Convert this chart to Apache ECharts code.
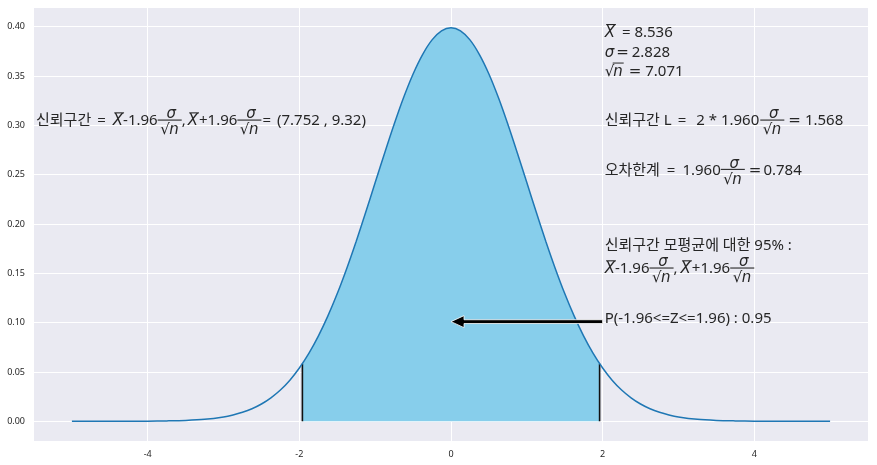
<!DOCTYPE html>
<html>
<head>
<meta charset="utf-8">
<title>신뢰구간</title>
<script src="https://cdn.jsdelivr.net/npm/echarts@6/dist/echarts.min.js"></script>
</head>
<body style="margin:0">
<div id="main" style="width:877px;height:465px;"></div>
<script>
// curve (standard normal density)
var xs = [-5, -4.75, -4.5, -4.25, -4, -3.75, -3.5, -3.25, -3,
          -2.875, -2.75, -2.625, -2.5, -2.375, -2.25, -2.125, -2, -1.875, -1.75, -1.625, -1.5, -1.375, -1.25, -1.125,
          -1, -0.875, -0.75, -0.625, -0.5, -0.375, -0.25, -0.125, 0, 0.125, 0.25, 0.375, 0.5, 0.625, 0.75, 0.875,
          1, 1.125, 1.25, 1.375, 1.5, 1.625, 1.75, 1.875, 2, 2.125, 2.25, 2.375, 2.5, 2.625, 2.75, 2.875,
          3, 3.25, 3.5, 3.75, 4, 4.25, 4.5, 4.75, 5];
var density = [0.0000, 0.0000, 0.0000, 0.0000, 0.0001, 0.0004, 0.0009, 0.0020, 0.0044,
               0.0064, 0.0091, 0.0127, 0.0175, 0.0238, 0.0317, 0.0417, 0.0540, 0.0688, 0.0863, 0.1066, 0.1295, 0.1550, 0.1826, 0.2119,
               0.2420, 0.2720, 0.3011, 0.3282, 0.3521, 0.3718, 0.3867, 0.3958, 0.3989, 0.3958, 0.3867, 0.3718, 0.3521, 0.3282, 0.3011, 0.2720,
               0.2420, 0.2119, 0.1826, 0.1550, 0.1295, 0.1066, 0.0863, 0.0688, 0.0540, 0.0417, 0.0317, 0.0238, 0.0175, 0.0127, 0.0091, 0.0064,
               0.0044, 0.0020, 0.0009, 0.0004, 0.0001, 0.0000, 0.0000, 0.0000, 0.0000];
// shaded region between -1.96 and 1.96
var fillX = [-1.96, -1.875, -1.75, -1.625, -1.5, -1.375, -1.25, -1.125, -1, -0.875, -0.75, -0.625, -0.5, -0.375, -0.25, -0.125,
             0, 0.125, 0.25, 0.375, 0.5, 0.625, 0.75, 0.875, 1, 1.125, 1.25, 1.375, 1.5, 1.625, 1.75, 1.875, 1.96];
var fillY = [0.0584, 0.0688, 0.0863, 0.1066, 0.1295, 0.1550, 0.1826, 0.2119, 0.2420, 0.2720, 0.3011, 0.3282, 0.3521, 0.3718, 0.3867, 0.3958,
             0.3989, 0.3958, 0.3867, 0.3718, 0.3521, 0.3282, 0.3011, 0.2720, 0.2420, 0.2119, 0.1826, 0.1550, 0.1295, 0.1066, 0.0863, 0.0688, 0.0584];
var cutX = [-1.96, 1.96];
var cutTop = 0.0584;
var xTicks = [-4, -2, 0, 2, 4];
var yTicks = [0, 0.05, 0.10, 0.15, 0.20, 0.25, 0.30, 0.35, 0.40];
var arrowFrom = [2, 0.1];
var arrowTo = [0, 0.1];

var INK = '#262626';
var PLAIN = '"Noto Sans", "Noto Sans CJK KR", sans-serif';
var MATH = '"DejaVu Sans"';
var SIZE = 15, FSIZE = 15;

var chart = echarts.init(document.getElementById('main'));

function pairs(a, b) {
    return a.map(function (v, i) { return [v, b[i]]; });
}

chart.setOption({
    animation: false,
    grid: { left: 34, right: 9, top: 8, bottom: 24, show: true, backgroundColor: '#eaeaf2', borderWidth: 0 },
    xAxis: {
        type: 'value', min: -5.5, max: 5.5,
        axisLine: { show: false },
        axisTick: { show: false, customValues: xTicks },
        axisLabel: { customValues: xTicks, color: INK, fontSize: 9, fontFamily: 'Noto Sans', margin: 9 },
        splitLine: { lineStyle: { color: '#ffffff', width: 1 } }
    },
    yAxis: {
        type: 'value', min: -0.02, max: 0.419,
        axisLine: { show: false },
        axisTick: { show: false, customValues: yTicks },
        axisLabel: { customValues: yTicks, color: INK, fontSize: 9, fontFamily: 'Noto Sans', margin: 9,
            formatter: function (v) { return v.toFixed(2); } },
        splitLine: { lineStyle: { color: '#ffffff', width: 1 } }
    },
    series: [
        { type: 'line', data: pairs(fillX, fillY), smooth: 0.3, symbol: 'none',
          lineStyle: { width: 0 }, areaStyle: { color: '#87ceeb', opacity: 1, origin: 0 }, z: 1 },
        { type: 'line', data: pairs(xs, density), smooth: 0.3, symbol: 'none',
          lineStyle: { color: '#1f77b4', width: 1.5 }, z: 3 },
        { type: 'line', data: [[cutX[0], 0], [cutX[0], cutTop]], symbol: 'none',
          lineStyle: { color: '#111111', width: 1.6 }, z: 2 },
        { type: 'line', data: [[cutX[1], 0], [cutX[1], cutTop]], symbol: 'none',
          lineStyle: { color: '#111111', width: 1.6 }, z: 2 }
    ]
});

// ---- text annotations with a small hand-made math layout ----
var ctx = document.createElement('canvas').getContext('2d');
function width(s, font) { ctx.font = font; return ctx.measureText(s).width; }
function midOffset(font, size) {
    ctx.font = font;
    ctx.textBaseline = 'alphabetic';
    var a = ctx.measureText('X').fontBoundingBoxAscent;
    ctx.textBaseline = 'middle';
    var b = ctx.measureText('X').fontBoundingBoxAscent;
    ctx.textBaseline = 'alphabetic';
    return (a != null && b != null) ? a - b : size * 0.35;
}
function txt(out, s, x, base, font, size) {
    out.push({ type: 'text', x: x, y: base - midOffset(font, size), z: 100,
        style: { text: s, font: font, fill: INK, align: 'left', verticalAlign: 'middle' } });
    return width(s, font);
}
function rule(out, x1, y, x2, lw) {
    out.push({ type: 'line', z: 100, shape: { x1: x1, y1: y, x2: x2, y2: y },
        style: { stroke: INK, lineWidth: lw || 1 } });
}

// tokens: 'X' overlined X, 'F' sigma over root n, 'R' root n,
// {g:n} extra gap, {m:'..'} math font, {i:'..'} math italic, plain string otherwise
function layout(tokens, x, base, out) {
    var plain = SIZE + 'px ' + PLAIN;
    var mathF = SIZE + 'px ' + MATH;
    var mathI = 'italic ' + SIZE + 'px ' + MATH;
    var fracI = 'italic ' + FSIZE + 'px ' + MATH;
    var fracR = FSIZE + 'px ' + MATH;
    tokens.forEach(function (t) {
        if (t === 'X') {
            var wx = txt(out, 'X', x, base, mathI, SIZE);
            rule(out, x + 1.5, base - 12.5, x + wx + 1, 1.1);
            x += wx;
        } else if (t === 'F') {
            var wn = width('σ', fracI);
            var wr = width('√', fracR), wi = width('n', fracI);
            var wd = wr + wi;
            var wf = Math.max(wn, wd) + 5;
            txt(out, 'σ', x + (wf - wn) / 2 + 1.5, base - 7, fracI, FSIZE);
            rule(out, x, base - 5.3, x + wf, 1.1);
            var dx = x + (wf - wd) / 2;
            txt(out, '√', dx, base + 9, fracR, FSIZE);
            txt(out, 'n', dx + wr - 0.5, base + 9, fracI, FSIZE);
            x += wf;
        } else if (t === 'R') {
            var w1 = txt(out, '√', x, base, mathF, SIZE);
            var w2 = txt(out, 'n', x + w1 - 1, base, mathI, SIZE);
            rule(out, x + w1 - 1.5, base - 13, x + w1 + w2, 1);
            x += w1 + w2;
        } else if (typeof t === 'object') {
            if (t.g != null) x += t.g;
            else if (t.m != null) x += txt(out, t.m, x, base, mathF, SIZE);
            else x += txt(out, t.i, x, base, mathI, SIZE);
        } else {
            x += txt(out, t, x, base, plain, SIZE);
        }
    });
}

var notes = [
    { at: [-5.5, 0.30], gap: 0, lines: [
        ['신뢰구간', { g: 6 }, '=', { g: 7 }, 'X', '-1.96', 'F', ',', { g: 2 }, 'X', { g: 1 }, '+1.96', 'F', { g: 1 },
         '=', { g: 6 }, '(7.752 , 9.32)']] },
    { at: [2, 0.35], gap: 19.5, lines: [
        ['X', { g: 7 }, '= 8.536'],
        [{ i: 'σ' }, { g: 2 }, { m: '=' }, { g: 3 }, '2.828'],
        ['R', { g: 5 }, { m: '=' }, { g: 4 }, '7.071']] },
    { at: [2, 0.30], gap: 0, lines: [
        ['신뢰구간', { g: 4 }, 'L', { g: 6 }, '=', { g: 10 }, '2 * 1.960', { g: 1 }, 'F', { g: 4 }, { m: '=' }, { g: 4 }, '1.568']] },
    { at: [2, 0.25], gap: 0, lines: [
        ['오차한계', { g: 7 }, '=', { g: 7 }, '1.960', 'F', { g: 4 }, { m: '=' }, { g: 2 }, '0.784']] },
    { at: [2, 0.15], gap: 23, lines: [
        ['신뢰구간 모평균에 대한 95% :'],
        ['X', '-1.96', 'F', ',', { g: 3 }, 'X', { g: 1 }, '+1.96', 'F']] },
    { at: [2, 0.10], gap: 0, lines: [['P(-1.96<=Z<=1.96) : 0.95']] }
];

var els = [];
notes.forEach(function (n) {
    var p = chart.convertToPixel({ gridIndex: 0 }, n.at);
    var count = n.lines.length;
    n.lines.forEach(function (line, i) {
        layout(line, p[0] + 2, p[1] - (count - 1 - i) * n.gap, els);
    });
});

// arrow from the P(...) note to the centre
var a0 = chart.convertToPixel({ gridIndex: 0 }, arrowTo);
var a1 = chart.convertToPixel({ gridIndex: 0 }, arrowFrom);
var hy = a0[1] - 1, headL = 13, headH = 12, shaft = 3.8;
els.push({
    type: 'polygon', z: 90,
    shape: { points: [
        [a0[0], hy], [a0[0] + headL, hy - headH / 2], [a0[0] + headL, hy - shaft / 2],
        [a1[0], hy - shaft / 2], [a1[0], hy + shaft / 2], [a0[0] + headL, hy + shaft / 2],
        [a0[0] + headL, hy + headH / 2]
    ] },
    style: { fill: '#000000', stroke: '#ffffff', lineWidth: 0.8 }
});

chart.setOption({ graphic: els });
</script>
</body>
</html>
